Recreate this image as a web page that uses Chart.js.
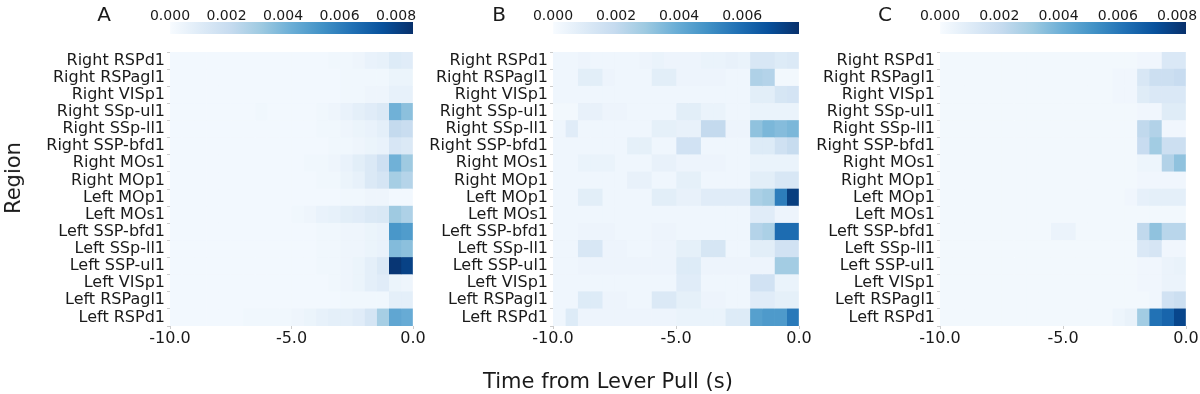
<!DOCTYPE html>
<html>
<head>
<meta charset="utf-8">
<script src="https://cdn.jsdelivr.net/npm/chart.js@4.4.1/dist/chart.umd.min.js"></script>
<style>
  body { margin: 0; width: 1200px; height: 394px; background: #fff; position: relative; overflow: hidden;
         font-family: "DejaVu Sans", sans-serif; color: #1a1a1a; }
  canvas { position: absolute; }
  .txt { position: absolute; white-space: nowrap; transform: translate(-50%, -50%); }
  .panel-label { font-size: 20px; top: 14px; }
  #yTitle { left: 13px; top: 178px; font-size: 21px; transform: translate(-50%, -50%) rotate(-90deg); }
  #xTitle { left: 608px; top: 381px; font-size: 21px; }
</style>
</head>
<body>
<canvas id="cbA" width="440" height="40" style="left:0px;top:0px"></canvas>
<canvas id="cbB" width="420" height="40" style="left:400px;top:0px"></canvas>
<canvas id="cbC" width="410" height="40" style="left:790px;top:0px"></canvas>
<canvas id="hmA" width="440" height="320" style="left:0px;top:40px"></canvas>
<canvas id="hmB" width="420" height="320" style="left:400px;top:40px"></canvas>
<canvas id="hmC" width="410" height="320" style="left:790px;top:40px"></canvas>
<div class="txt panel-label" style="left:104px">A</div>
<div class="txt panel-label" style="left:499px">B</div>
<div class="txt panel-label" style="left:885px">C</div>
<div class="txt" id="yTitle">Region</div>
<div class="txt" id="xTitle">Time from Lever Pull (s)</div>
<script>
// ---- data ----
const regions = [
    'Right RSPd1', 'Right RSPagl1', 'Right VISp1', 'Right SSp-ul1', 'Right SSp-ll1', 'Right SSP-bfd1',
    'Right MOs1', 'Right MOp1', 'Left MOp1', 'Left MOs1', 'Left SSP-bfd1', 'Left SSp-ll1',
    'Left SSP-ul1', 'Left VISp1', 'Left RSPagl1', 'Left RSPd1'
];
// start of each 0.5 s time bin
const binStarts = [-10, -9.5, -9, -8.5, -8, -7.5, -7, -6.5, -6, -5.5, -5, -4.5, -4, -3.5, -3, -2.5, -2, -1.5, -1, -0.5];
const binWidth = 0.5;
const timeTicks = [-10, -5, 0];
const colorbarTicks = [0, 0.002, 0.004, 0.006, 0.008];
const valueUnit = 0.001; // values below are in units of 1e-3

// one row per region, one value per time bin
const valuesA = [
    [0.2,0.2,0.2,0.2,0.2,0.2,0.2,0.2,0.2,0.2, 0.2,0.2,0.2,0.3,0.3,0.4,0.6,0.7,1.1,1.0],
    [0.2,0.2,0.2,0.2,0.2,0.2,0.2,0.2,0.2,0.2, 0.2,0.2,0.2,0.2,0.3,0.3,0.3,0.3,0.5,0.5],
    [0.2,0.2,0.2,0.2,0.2,0.2,0.2,0.2,0.2,0.2, 0.2,0.2,0.2,0.2,0.3,0.3,0.4,0.4,0.7,0.7],
    [0.2,0.2,0.2,0.2,0.2,0.2,0.2,0.3,0.2,0.2, 0.2,0.2,0.3,0.4,0.6,0.8,1.0,1.2,4.2,3.6],
    [0.2,0.2,0.2,0.2,0.2,0.2,0.2,0.2,0.2,0.2, 0.2,0.2,0.3,0.3,0.4,0.5,0.6,0.8,2.2,2.0],
    [0.2,0.2,0.2,0.2,0.2,0.2,0.2,0.2,0.2,0.2, 0.2,0.2,0.2,0.3,0.3,0.4,0.5,0.6,1.4,1.2],
    [0.2,0.2,0.2,0.2,0.2,0.2,0.2,0.2,0.2,0.2, 0.2,0.3,0.3,0.4,0.6,0.9,1.2,1.8,4.2,3.2],
    [0.2,0.2,0.2,0.2,0.2,0.2,0.2,0.2,0.2,0.2, 0.2,0.2,0.3,0.3,0.5,0.7,1.2,1.5,3.0,2.6],
    [0.2,0.2,0.2,0.2,0.2,0.2,0.2,0.2,0.2,0.2, 0.2,0.2,0.2,0.2,0.3,0.3,0.4,0.4,0.2,0.2],
    [0.2,0.2,0.2,0.2,0.2,0.2,0.2,0.2,0.2,0.2, 0.3,0.4,0.6,0.7,0.9,1.0,1.2,1.3,3.2,2.8],
    [0.2,0.2,0.2,0.2,0.2,0.2,0.2,0.2,0.2,0.2, 0.2,0.2,0.3,0.3,0.4,0.4,0.5,0.6,5.2,5.0],
    [0.2,0.2,0.2,0.2,0.2,0.2,0.2,0.2,0.2,0.2, 0.2,0.2,0.3,0.3,0.4,0.4,0.5,0.6,3.8,3.6],
    [0.2,0.2,0.2,0.2,0.2,0.2,0.2,0.2,0.2,0.2, 0.2,0.2,0.3,0.3,0.4,0.5,0.8,1.2,8.4,8.0],
    [0.2,0.2,0.2,0.2,0.2,0.2,0.2,0.2,0.2,0.2, 0.2,0.2,0.2,0.3,0.4,0.5,0.8,1.0,0.5,0.4],
    [0.2,0.2,0.2,0.2,0.2,0.2,0.2,0.2,0.2,0.2, 0.2,0.2,0.2,0.2,0.3,0.3,0.3,0.3,0.8,0.8],
    [0.2,0.2,0.2,0.2,0.2,0.2,0.3,0.3,0.3,0.3, 0.4,0.5,0.7,0.8,0.8,1.0,1.5,3.0,4.6,4.4]
];
const valuesB = [
    [0.3,0.3,0.4,0.3,0.3,0.3,0.3,0.4,0.5,0.4, 0.4,0.4,0.5,0.5,0.6,0.5,1.2,1.2,1.0,1.1],
    [0.3,0.3,0.8,0.8,0.4,0.3,0.3,0.3,0.8,0.8, 0.4,0.4,0.4,0.4,0.3,0.3,2.5,2.4,0.2,0.2],
    [0.3,0.3,0.3,0.3,0.3,0.3,0.3,0.3,0.3,0.3, 0.3,0.3,0.3,0.3,0.3,0.3,0.8,0.8,1.3,1.4],
    [0.2,0.2,0.6,0.6,0.4,0.4,0.3,0.3,0.3,0.3, 0.8,0.8,0.5,0.5,0.3,0.3,0.5,0.5,0.5,0.5],
    [0.3,0.9,0.3,0.3,0.3,0.3,0.3,0.3,0.7,0.7, 0.6,0.6,2.0,2.0,0.4,0.4,3.2,3.6,3.4,3.6],
    [0.3,0.3,0.3,0.3,0.3,0.3,0.7,0.7,0.3,0.3, 1.5,1.5,0.3,0.3,0.3,0.3,1.0,1.0,1.6,1.9],
    [0.3,0.3,0.5,0.5,0.5,0.3,0.3,0.3,0.6,0.6, 0.4,0.4,0.4,0.4,0.3,0.3,0.5,0.5,0.5,0.5],
    [0.3,0.3,0.3,0.3,0.3,0.3,0.6,0.6,0.3,0.3, 0.7,0.7,0.3,0.3,0.3,0.3,0.8,0.8,1.2,1.2],
    [0.3,0.3,0.8,0.8,0.3,0.3,0.3,0.3,0.8,0.8, 0.6,0.6,0.9,0.9,0.9,0.9,2.6,2.8,5.5,7.4],
    [0.3,0.3,0.3,0.3,0.3,0.3,0.3,0.3,0.3,0.3, 0.3,0.3,0.3,0.3,0.3,0.3,0.9,0.9,0.4,0.4],
    [0.3,0.3,0.4,0.4,0.4,0.3,0.3,0.3,0.4,0.4, 0.3,0.3,0.3,0.3,0.3,0.3,2.4,2.6,6.0,6.0],
    [0.3,0.3,1.2,1.2,0.4,0.4,0.3,0.3,0.4,0.4, 0.7,0.7,1.3,1.3,0.3,0.3,0.8,0.8,1.5,1.5],
    [0.3,0.3,0.4,0.4,0.4,0.4,0.4,0.4,0.4,0.4, 1.0,1.0,0.4,0.4,0.4,0.4,0.4,0.4,2.8,2.8],
    [0.3,0.3,0.3,0.3,0.3,0.3,0.3,0.3,0.3,0.3, 0.9,0.9,0.3,0.3,0.3,0.3,1.5,1.5,0.5,0.5],
    [0.3,0.3,1.0,1.0,0.4,0.4,0.3,0.3,1.1,1.1, 0.7,0.7,0.4,0.4,0.3,0.3,0.9,0.9,0.7,0.7],
    [0.3,1.0,0.4,0.4,0.4,0.4,0.4,0.4,0.4,0.4, 0.5,0.5,0.5,0.5,1.0,1.0,4.4,4.6,4.6,5.6]
];
const valuesC = [
    [0.2,0.2,0.2,0.2,0.2,0.2,0.2,0.2,0.2,0.2, 0.2,0.2,0.2,0.2,0.2,0.2,0.3,0.3,1.2,1.2],
    [0.2,0.2,0.2,0.2,0.2,0.2,0.2,0.2,0.2,0.2, 0.2,0.2,0.2,0.2,0.3,0.3,1.3,1.8,1.8,2.0],
    [0.2,0.2,0.2,0.2,0.2,0.2,0.2,0.2,0.2,0.2, 0.2,0.2,0.2,0.2,0.3,0.3,1.0,1.2,1.2,1.2],
    [0.2,0.2,0.2,0.2,0.2,0.2,0.2,0.2,0.2,0.2, 0.2,0.2,0.2,0.2,0.2,0.2,0.3,0.3,1.0,1.0],
    [0.2,0.2,0.2,0.2,0.2,0.2,0.2,0.2,0.2,0.2, 0.2,0.2,0.2,0.2,0.2,0.2,2.2,2.6,0.3,0.3],
    [0.2,0.2,0.2,0.2,0.2,0.2,0.2,0.2,0.2,0.2, 0.2,0.2,0.2,0.2,0.2,0.2,2.0,3.0,1.8,1.8],
    [0.2,0.2,0.2,0.2,0.2,0.2,0.2,0.2,0.2,0.2, 0.2,0.2,0.2,0.2,0.2,0.2,0.4,0.4,2.6,3.4],
    [0.2,0.2,0.2,0.2,0.2,0.2,0.2,0.2,0.2,0.2, 0.2,0.2,0.2,0.2,0.2,0.2,0.3,0.3,0.3,0.3],
    [0.2,0.2,0.2,0.2,0.2,0.2,0.2,0.2,0.2,0.2, 0.2,0.2,0.2,0.2,0.2,0.3,0.7,0.8,0.8,0.8],
    [0.2,0.2,0.2,0.2,0.2,0.2,0.2,0.2,0.2,0.2, 0.2,0.2,0.2,0.2,0.2,0.2,0.2,0.2,0.2,0.2],
    [0.2,0.2,0.2,0.2,0.2,0.2,0.2,0.2,0.2,0.5, 0.5,0.2,0.2,0.2,0.2,0.2,2.2,3.4,2.4,2.4],
    [0.2,0.2,0.2,0.2,0.2,0.2,0.2,0.2,0.2,0.2, 0.2,0.2,0.2,0.2,0.2,0.2,1.2,1.4,0.3,0.3],
    [0.2,0.2,0.2,0.2,0.2,0.2,0.2,0.2,0.2,0.2, 0.2,0.2,0.2,0.2,0.2,0.2,0.3,0.3,0.5,0.6],
    [0.2,0.2,0.2,0.2,0.2,0.2,0.2,0.2,0.2,0.2, 0.2,0.2,0.2,0.2,0.2,0.2,0.3,0.3,0.5,0.5],
    [0.2,0.2,0.2,0.2,0.2,0.2,0.2,0.2,0.2,0.2, 0.2,0.2,0.2,0.2,0.2,0.2,0.2,0.3,1.6,1.8],
    [0.2,0.2,0.2,0.2,0.2,0.2,0.2,0.2,0.2,0.2, 0.2,0.2,0.2,0.2,0.4,0.6,3.0,6.2,6.6,7.6]
];
// top of each colour scale
const vmaxA = 0.0086;
const vmaxB = 0.0078;
const vmaxC = 0.0083;

// matplotlib "Blues"
const bluesStops = ['#f7fbff', '#deebf7', '#c6dbef', '#9ecae1', '#6baed6', '#4292c6', '#2171b5', '#08519c', '#08306b'];

function hexToRgb(h) {
    return [parseInt(h.slice(1, 3), 16), parseInt(h.slice(3, 5), 16), parseInt(h.slice(5, 7), 16)];
}

function blues(f) {
    f = Math.max(0, Math.min(1, f));
    const p = f * (bluesStops.length - 1);
    const i = Math.min(bluesStops.length - 2, Math.floor(p));
    const t = p - i;
    const a = hexToRgb(bluesStops[i]);
    const b = hexToRgb(bluesStops[i + 1]);
    const c = a.map((v, j) => Math.round(v + (b[j] - v) * t));
    return `rgb(${c[0]},${c[1]},${c[2]})`;
}

const textColor = '#1a1a1a';
const fontFamily = '"DejaVu Sans", sans-serif';

function makeHeatmap(id, values, vmax, yAxisWidth, padRight) {
    // one dataset per time bin, each bar spans one bin for one region
    const datasets = binStarts.map((t0, k) => ({
        data: regions.map(() => [t0, t0 + binWidth]),
        backgroundColor: values.map(row => blues(row[k] * valueUnit / vmax)),
        borderWidth: 0,
        grouped: false,
        categoryPercentage: 1,
        barPercentage: 1
    }));

    new Chart(document.getElementById(id).getContext('2d'), {
        type: 'bar',
        data: { labels: regions, datasets: datasets },
        options: {
            indexAxis: 'y',
            responsive: false,
            animation: false,
            layout: { padding: { top: 12, right: padRight, left: 0, bottom: 0 } },
            plugins: { legend: { display: false }, tooltip: { enabled: false } },
            scales: {
                x: {
                    type: 'linear',
                    min: -10,
                    max: 0,
                    afterBuildTicks: scale => { scale.ticks = timeTicks.map(v => ({ value: v })); },
                    afterFit: scale => { scale.height = 34; },
                    ticks: {
                        autoSkip: false,
                        maxRotation: 0,
                        padding: 0,
                        color: textColor,
                        font: { family: fontFamily, size: 16 },
                        callback: v => Number(v).toFixed(1)
                    },
                    grid: { drawOnChartArea: false, tickLength: 3, color: '#cccccc' },
                    border: { display: false }
                },
                y: {
                    afterFit: scale => { scale.width = yAxisWidth; },
                    ticks: {
                        autoSkip: false,
                        padding: 2,
                        color: textColor,
                        font: { family: fontFamily, size: 16 }
                    },
                    grid: { drawOnChartArea: false, tickLength: 3, color: '#cccccc' },
                    border: { display: false }
                }
            }
        }
    });
}

function makeColorbar(id, vmax, padLeft, padRight) {
    new Chart(document.getElementById(id).getContext('2d'), {
        type: 'bar',
        data: {
            labels: ['scale'],
            datasets: [{
                data: [[0, vmax]],
                borderWidth: 0,
                categoryPercentage: 1,
                barPercentage: 1,
                backgroundColor: function(context) {
                    const area = context.chart.chartArea;
                    if (!area) return bluesStops[0];
                    const g = context.chart.ctx.createLinearGradient(area.left, 0, area.right, 0);
                    bluesStops.forEach((c, i) => g.addColorStop(i / (bluesStops.length - 1), c));
                    return g;
                }
            }]
        },
        options: {
            indexAxis: 'y',
            responsive: false,
            animation: false,
            layout: { padding: { top: 0, right: padRight, left: padLeft, bottom: 6 } },
            plugins: { legend: { display: false }, tooltip: { enabled: false } },
            scales: {
                x: {
                    type: 'linear',
                    position: 'top',
                    min: 0,
                    max: vmax,
                    afterBuildTicks: scale => {
                        scale.ticks = colorbarTicks.filter(v => v <= vmax).map(v => ({ value: v }));
                    },
                    afterFit: scale => { scale.height = 22; },
                    ticks: {
                        autoSkip: false,
                        maxRotation: 0,
                        padding: -3,
                        color: textColor,
                        font: { family: fontFamily, size: 14 },
                        callback: v => Number(v).toFixed(3)
                    },
                    grid: { drawOnChartArea: false, drawTicks: false, tickLength: 0 },
                    border: { display: false }
                },
                y: { display: false }
            }
        }
    });
}

document.addEventListener('DOMContentLoaded', function() {
    makeColorbar('cbA', vmaxA, 170, 27);
    makeColorbar('cbB', vmaxB, 153, 21);
    makeColorbar('cbC', vmaxC, 150, 14);

    makeHeatmap('hmA', valuesA, vmaxA, 170, 27);
    makeHeatmap('hmB', valuesB, vmaxB, 153, 21);
    makeHeatmap('hmC', valuesC, vmaxC, 150, 14);
});
</script>
</body>
</html>
